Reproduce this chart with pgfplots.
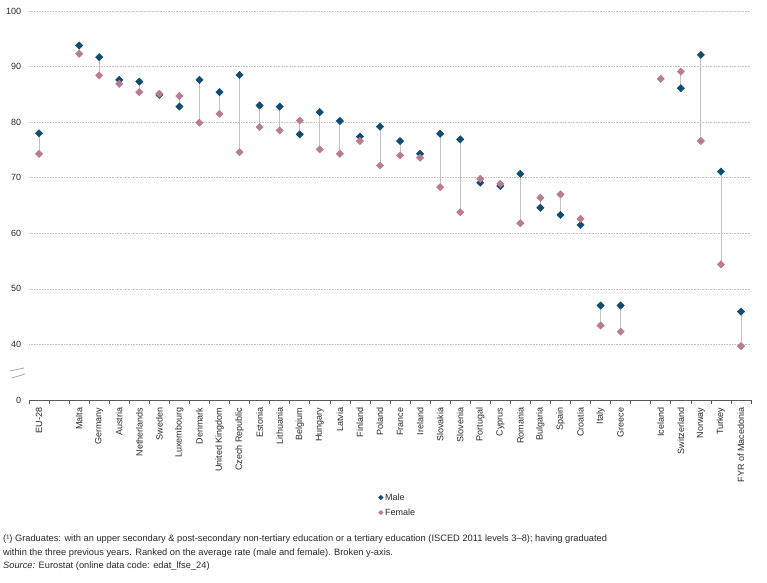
\documentclass[border=0pt]{standalone}
\usepackage{pgfplots}
\usepackage{pgfplotstable}
\pgfplotsset{compat=1.18}
\usepackage{fontspec}
\setmainfont{Liberation Sans}
\definecolor{male}{RGB}{14,76,114}
\definecolor{female}{RGB}{186,122,148}
\definecolor{gridc}{RGB}{195,195,195}
\definecolor{txt}{RGB}{40,40,40}
\pgfplotstableread[col sep=comma]{
idx,name,male,female
0,EU-28,78.0,74.3
2,Malta,93.8,92.3
3,Germany,91.7,88.4
4,Austria,87.6,86.9
5,Netherlands,87.3,85.4
6,Sweden,84.9,85.1
7,Luxembourg,82.8,84.7
8,Denmark,87.6,79.9
9,United Kingdom,85.4,81.5
10,Czech Republic,88.5,74.6
11,Estonia,83.0,79.1
12,Lithuania,82.8,78.5
13,Belgium,77.8,80.3
14,Hungary,81.8,75.1
15,Latvia,80.2,74.3
16,Finland,77.4,76.6
17,Poland,79.2,72.2
18,France,76.6,74.0
19,Ireland,74.3,73.6
20,Slovakia,77.9,68.3
21,Slovenia,76.9,63.8
22,Portugal,69.1,69.8
23,Cyprus,68.5,68.9
24,Romania,70.7,61.8
25,Bulgaria,64.6,66.4
26,Spain,63.3,67.0
27,Croatia,61.5,62.6
28,Italy,47.0,43.4
29,Greece,47.0,42.3
31,Iceland,nan,87.8
32,Switzerland,86.1,89.1
33,Norway,92.1,76.6
34,Turkey,71.1,54.4
35,FYR of Macedonia,45.9,39.7
}\data
\begin{document}
\begin{tikzpicture}[font=\fontsize{9bp}{11bp}\selectfont, text=txt]
\useasboundingbox (0,0) rectangle (767bp,583bp);
\begin{axis}[
  at={(29bp,183bp)}, anchor=south west,
  scale only axis, width=722bp, height=389bp,
  xmin=-0.5, xmax=35.5, ymin=30, ymax=100,
  axis x line*=bottom, axis y line*=left,
  y axis line style={draw=none},
  x axis line style={black!65, line width=0.6pt},
  ytick={30,40,50,60,70,80,90,100},
  yticklabels={0,40,50,60,70,80,90,100},
  ytick style={draw=none},
  ymajorgrids, major grid style={gridc, dash pattern=on 0.8pt off 0.8pt, line width=0.5pt},
  xtick={0,2,3,...,29,31,32,...,35},
  xticklabels from table={\data}{name},
  major x tick style={draw=none},
  minor xtick={-0.5,0.5,...,35.5},
  minor x tick style={black!65, line width=0.6pt},
  minor tick length=4bp,
  tick align=outside,
  xticklabel style={rotate=90, anchor=east, font=\fontsize{9bp}{11bp}\selectfont, text=txt},
  yticklabel style={font=\fontsize{9bp}{11bp}\selectfont, text=txt},
  /pgf/number format/assume math mode=true,
  unbounded coords=discard,
  clip=false,
  legend style={draw=none, fill=none, at={(axis description cs:0.484,-0.27)}, anchor=west,
    font=\fontsize{9bp}{11bp}\selectfont, row sep=3bp, inner sep=0pt,
    /tikz/every even column/.append style={column sep=2bp}},
  legend cell align=left,
  legend image code/.code={\draw[#1, mark size=1.6bp] plot coordinates {(0bp,0bp)};},
]
\addplot[draw=none, forget plot,
  error bars/.cd, y dir=plus, y explicit, error mark=none,
  error bar style={gridc, line width=0.8pt}]
  table[x=idx, y=male, y error expr=\thisrow{female}-\thisrow{male}] {\data};
\addplot[only marks, mark=square*, mark size=2.6bp, mark options={rotate=45, fill=male, draw=male}, color=male]
  table[x=idx, y=male] {\data};
\addlegendentry{Male}
\addplot[only marks, mark=square*, mark size=2.6bp, mark options={rotate=45, fill=female, draw=female}, color=female]
  table[x=idx, y=female] {\data};
\addlegendentry{Female}
\end{axis}
\draw[gray!70, line width=0.8pt] (10bp,212bp) -- (24bp,215bp);
\draw[gray!70, line width=0.8pt] (12bp,205bp) -- (25bp,209bp);
\begin{scope}[font=\fontsize{9.3bp}{11bp}\selectfont]
\node[anchor=base west, inner sep=0pt] at (3bp,41bp) {(¹) Graduates: with an upper secondary \& post-secondary non-tertiary education or a tertiary education (ISCED 2011 levels 3--8); having graduated};
\node[anchor=base west, inner sep=0pt] at (3bp,28bp) {within the three previous years. Ranked on the average rate (male and female). Broken y-axis.};
\node[anchor=base west, inner sep=0pt] at (3bp,15bp) {\textit{Source:} Eurostat (online data code: edat\_lfse\_24)};
\end{scope}
\end{tikzpicture}
\end{document}
